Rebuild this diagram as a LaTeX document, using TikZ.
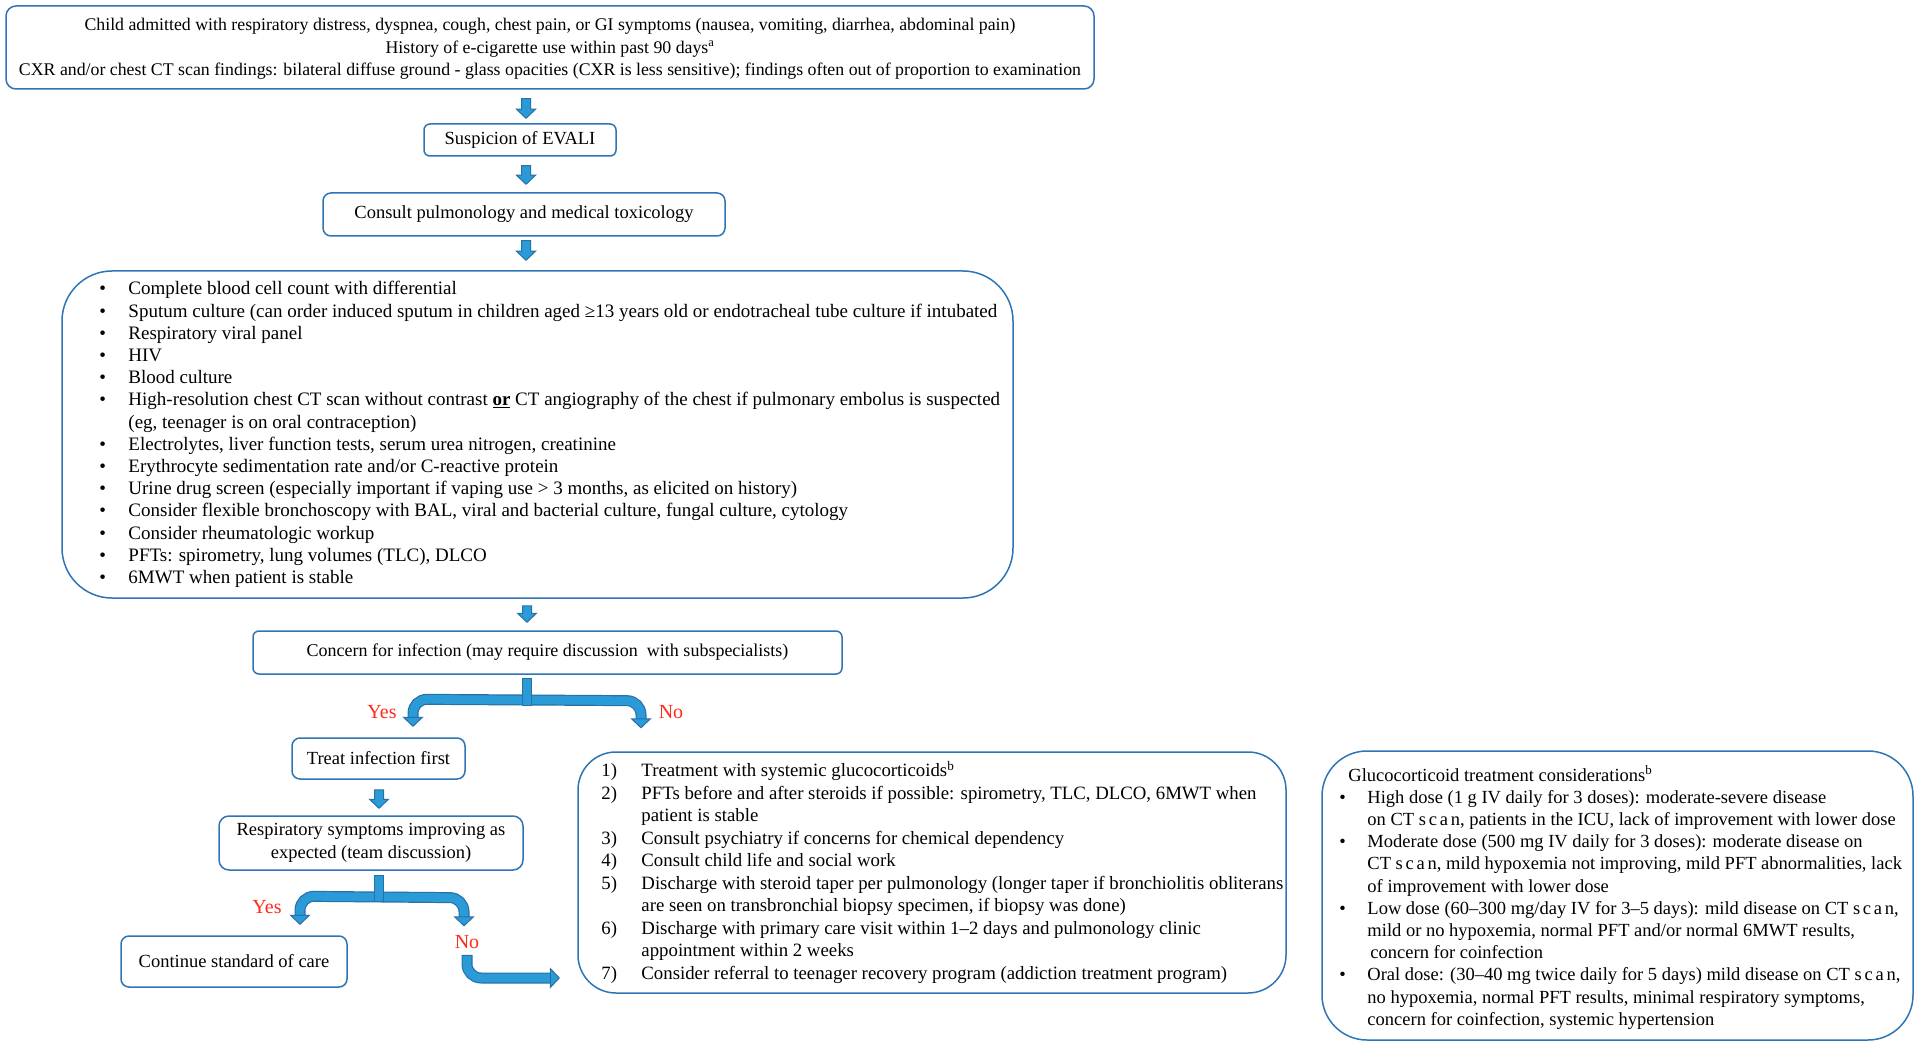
\documentclass[tikz,border=0pt]{standalone}
\usepackage{fontspec}
\setmainfont{Liberation Serif}
\usetikzlibrary{calc}
\definecolor{boxblue}{HTML}{2E75B6}
\definecolor{arrowfill}{HTML}{2B9BD8}
\definecolor{arrowedge}{HTML}{2770A8}
\definecolor{labred}{HTML}{FF2A1A}
\newcommand{\fsz}[2]{\fontsize{#1}{#2}\selectfont}
\newcommand{\bul}{\makebox[29pt][l]{•}}
\newcommand{\gbul}{\makebox[28pt][l]{•}}
\newcommand{\num}[1]{\makebox[40pt][l]{#1}}
\newcommand{\scn}{{\addfontfeature{LetterSpace=15}scan}}
\newcommand{\dnarrow}[2]{\path[blk] let \p1=(#1), \p2=(#2) in
  (\x1-4.5pt,\y1) -- (\x1+4.5pt,\y1) -- (\x1+4.5pt,\y2+9pt) -- (\x1+9.5pt,\y2+9pt)
  -- (\x1,\y2) -- (\x1-9.5pt,\y2+9pt) -- (\x1-4.5pt,\y2+9pt) -- cycle;}
\newcommand{\headdown}[1]{\path[blk] (#1) -- ($(#1)+(-9.5,-9)$) -- ($(#1)+(9.5,-9)$) -- cycle;}
\newcommand{\headright}[1]{\path[blk] (#1) -- ($(#1)+(-9,-9.5)$) -- ($(#1)+(-9,9.5)$) -- cycle;}
\begin{document}
\begin{tikzpicture}[x=1pt,y=-1pt,
  box/.style={draw=boxblue, line width=1.5pt, fill=white, rounded corners=#1, inner sep=0pt, align=center},
  box/.default=8pt,
  txt/.style={inner sep=0pt, align=left, anchor=west},
  blk/.style={fill=arrowfill, draw=arrowedge, line width=1pt},
  bandout/.style={draw=arrowedge, line width=11pt, rounded corners=14pt},
  bandin/.style={draw=arrowfill, line width=8.6pt, rounded corners=14pt},
  lab/.style={text=labred, font=\fsz{20}{24}, inner sep=0pt}]
\useasboundingbox[fill=white] (0,0) rectangle (1920,1048);

\node[box=10pt, minimum width=1088pt, minimum height=83pt, font=\fsz{17.8}{22.8}] (top) at (550,47.5)
 {\rule{0pt}{15pt}Child admitted with respiratory distress, dyspnea, cough, chest pain, or GI symptoms (nausea, vomiting, diarrhea, abdominal pain)\\
  History of e-cigarette use within past 90 days\textsuperscript{a}\\
  CXR and/or chest CT scan findings: bilateral diffuse ground - glass opacities (CXR is less sensitive); findings often out of proportion to examination};

\node[box=6pt, minimum width=192pt, minimum height=32pt, font=\fsz{18.5}{22}] (susp) at (520,140) {Suspicion of EVALI};
\node[box=8pt, minimum width=402pt, minimum height=43pt, font=\fsz{18.5}{22}] (consult) at (524,214.5) {Consult pulmonology and medical toxicology};

\node[box=50pt, minimum width=951pt, minimum height=327pt] (list) at (537.5,434.5) {};
\node[txt, font=\fsz{19}{22.2}] (list-t) at ($(list.west)+(38,0)$) {%
\bul Complete blood cell count with differential\\
\bul Sputum culture (can order induced sputum in children aged ≥13 years old or endotracheal tube culture if intubated\\
\bul Respiratory viral panel\\
\bul HIV\\
\bul Blood culture\\
\bul High-resolution chest CT scan without contrast \textbf{\underline{or}} CT angiography of the chest if pulmonary embolus is suspected\\
\hspace*{29pt}(eg, teenager is on oral contraception)\\
\bul Electrolytes, liver function tests, serum urea nitrogen, creatinine\\
\bul Erythrocyte sedimentation rate and/or C-reactive protein\\
\bul Urine drug screen (especially important if vaping use > 3 months, as elicited on history)\\
\bul Consider flexible bronchoscopy with BAL, viral and bacterial culture, fungal culture, cytology\\
\bul Consider rheumatologic workup\\
\bul PFTs: spirometry, lung volumes (TLC), DLCO\\
\bul 6MWT when patient is stable};

\node[box=6pt, minimum width=589pt, minimum height=43pt, font=\fsz{18}{22}] (concern) at (547.5,652.5) {Concern for infection (may require discussion\ \ with subspecialists)};
\node[box=8pt, minimum width=173pt, minimum height=41pt, font=\fsz{18.5}{22}] (treat) at (378.5,758.5) {Treat infection first};
\node[box=10pt, minimum width=304pt, minimum height=54pt, font=\fsz{18.5}{22.5}] (resp) at (371,843) {Respiratory symptoms improving as\\expected (team discussion)};
\node[box=8pt, minimum width=226pt, minimum height=51pt, font=\fsz{18.5}{22}] (cont) at (234,961.5) {Continue standard of care};

\node[box=38pt, minimum width=708pt, minimum height=241pt] (treatment) at (932,872.5) {};
\node[txt, font=\fsz{18.8}{22.5}] (treatment-t) at ($(treatment.west)+(24,0)$) {%
\num{1)}Treatment with systemic glucocorticoids\textsuperscript{b}\\
\num{2)}PFTs before and after steroids if possible: spirometry, TLC, DLCO, 6MWT when\\
\hspace*{40pt}patient is stable\\
\num{3)}Consult psychiatry if concerns for chemical dependency\\
\num{4)}Consult child life and social work\\
\num{5)}Discharge with steroid taper per pulmonology (longer taper if bronchiolitis obliterans\\
\hspace*{40pt}are seen on transbronchial biopsy specimen, if biopsy was done)\\
\num{6)}Discharge with primary care visit within 1–2 days and pulmonology clinic\\
\hspace*{40pt}appointment within 2 weeks\\
\num{7)}Consider referral to teenager recovery program (addiction treatment program)};

\node[box=45pt, minimum width=591pt, minimum height=289pt] (gluco) at (1617.5,895.5) {};
\node[txt, font=\fsz{18.5}{22.2}] (gluco-t) at ($(gluco.west)+(18,2)$) {%
\hspace*{9pt}Glucocorticoid treatment considerations\textsuperscript{b}\\
\gbul High dose (1 g IV daily for 3 doses): moderate-severe disease\\
\hspace*{28pt}on CT\ \scn, patients in the ICU, lack of improvement with lower dose\\
\gbul Moderate dose (500 mg IV daily for 3 doses): moderate disease on\\
\hspace*{28pt}CT\ \scn, mild hypoxemia not improving, mild PFT abnormalities, lack\\
\hspace*{28pt}of improvement with lower dose\\
\gbul Low dose (60–300 mg/day IV for 3–5 days): mild disease on CT\ \scn,\\
\hspace*{28pt}mild or no hypoxemia, normal PFT and/or normal 6MWT results,\\
\hspace*{31pt}concern for coinfection\\
\gbul Oral dose: (30–40 mg twice daily for 5 days) mild disease on CT\ \scn,\\
\hspace*{28pt}no hypoxemia, normal PFT results, minimal respiratory symptoms,\\
\hspace*{28pt}concern for coinfection, systemic hypertension};

% straight block arrows
\dnarrow{$(top.south)+(-24,9)$}{$(susp.north)+(0,-5)$}
\dnarrow{$(susp.south)+(6,9)$}{$(consult.north)+(0,-8)$}
\dnarrow{$(consult.south)+(2,4)$}{$(list.north)+(0,-10)$}
\dnarrow{$(list.south)+(-10.5,7)$}{$(concern.north)+(0,-8)$}
\dnarrow{$(treat.south)+(0.5,10)$}{$(resp.north)+(0,-7)$}

% branch after concern
\coordinate (cs) at ($(concern.south)+(-20.5,4)$);
\coordinate (cyes) at ($(treat.north)+(34.5,-11)$);
\coordinate (cno) at ($(concern.south)+(93.5,53)$);
\draw[bandout] ($(cyes)+(0,-8)$) -- ($(cyes)+(0,-27)$) -- ($(cno)+(0,-27)$) -- ($(cno)+(0,-8)$);
\draw[bandin] ($(cyes)+(0,-8)$) -- ($(cyes)+(0,-27)$) -- ($(cno)+(0,-27)$) -- ($(cno)+(0,-8)$);
\headdown{cyes}
\headdown{cno}
\path[blk] ($(cs)+(-4.5,0)$) rectangle ($(cs)+(4.5,27)$);
\node[lab] (yes1) at (382,712) {Yes};
\node[lab] (no1) at (671,712) {No};

% branch after respiratory symptoms
\coordinate (rs) at ($(resp.south)+(8,5)$);
\coordinate (ryes) at ($(cont.north)+(66,-11)$);
\coordinate (rno) at ($(resp.south)+(93,55)$);
\draw[bandout] ($(ryes)+(0,-8)$) -- ($(ryes)+(0,-28)$) -- ($(rno)+(0,-28)$) -- ($(rno)+(0,-8)$);
\draw[bandin] ($(ryes)+(0,-8)$) -- ($(ryes)+(0,-28)$) -- ($(rno)+(0,-28)$) -- ($(rno)+(0,-8)$);
\headdown{ryes}
\headdown{rno}
\path[blk] ($(rs)+(-4.5,0)$) rectangle ($(rs)+(4.5,26)$);
\node[lab] (yes2) at (267,907) {Yes};
\node[lab] (no2) at (467,942) {No};

% "No" arrow to treatment box
\coordinate (nstart) at ($(no2.south)+(0,6)$);
\coordinate (ntip) at ($(treatment.west)+(-18,105.5)$);
\draw[bandout] (nstart) |- ($(ntip)+(-8,0)$);
\draw[bandin, shorten <=1.2pt] (nstart) |- ($(ntip)+(-8,0)$);
\headright{ntip}
\end{tikzpicture}
\end{document}
